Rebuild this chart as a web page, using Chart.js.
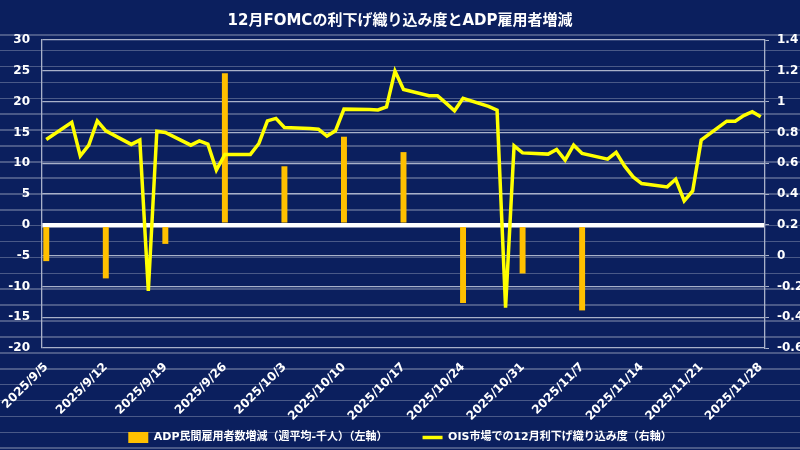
<!DOCTYPE html>
<html lang="ja">
<head>
<meta charset="utf-8">
<script src="https://cdn.jsdelivr.net/npm/chart.js@4.4.1/dist/chart.umd.min.js"></script>
<style>
  html, body { margin: 0; padding: 0; }
  body { width: 800px; height: 450px; background: #0b1f5e; position: relative; overflow: hidden; }
  #stripes {
    position: absolute; left: 0; top: 34px; width: 800px; height: 416px;
    background: repeating-linear-gradient(to bottom,
      rgba(255,255,255,0.26) 0px, rgba(255,255,255,0.26) 1.6px,
      transparent 1.6px, transparent 15.9px);
  }
  canvas { position: absolute; left: 0; top: 0; }
</style>
</head>
<body>
<div id="stripes"></div>
<canvas id="chart" width="800" height="450"></canvas>
<script>
// 12月FOMC利下げ織り込み度 vs ADP週次雇用者増減

const chartTitle = '12月FOMCの利下げ織り込み度とADP雇用者増減';
const adpLabel = 'ADP民間雇用者数増減（週平均-千人）（左軸）';
const oisLabel = 'OIS市場での12月利下げ織り込み度（右軸）';

// ADP weekly (left axis, thousand)
const adpDates = ['2025/9/5', '2025/9/12', '2025/9/19', '2025/9/26', '2025/10/3',
  '2025/10/10', '2025/10/17', '2025/10/24', '2025/10/31', '2025/11/7'];
const adpValues = [-5.9, -8.7, -3.1, 24.6, 9.5, 14.3, 11.8, -12.7, -7.9, -13.9];

// OIS pricing of a December cut (right axis), business days
const oisDates = [
  '2025/9/5', '2025/9/8', '2025/9/9', '2025/9/10', '2025/9/11', '2025/9/12',
  '2025/9/15', '2025/9/16', '2025/9/17', '2025/9/18', '2025/9/19',
  '2025/9/22', '2025/9/23', '2025/9/24', '2025/9/25', '2025/9/26',
  '2025/9/29', '2025/9/30', '2025/10/1', '2025/10/2', '2025/10/3',
  '2025/10/6', '2025/10/7', '2025/10/8', '2025/10/9', '2025/10/10',
  '2025/10/13', '2025/10/14', '2025/10/15', '2025/10/16', '2025/10/17',
  '2025/10/20', '2025/10/21', '2025/10/22', '2025/10/23', '2025/10/24',
  '2025/10/27', '2025/10/28', '2025/10/29', '2025/10/30', '2025/10/31',
  '2025/11/3', '2025/11/4', '2025/11/5', '2025/11/6', '2025/11/7',
  '2025/11/10', '2025/11/11', '2025/11/12', '2025/11/13', '2025/11/14',
  '2025/11/17', '2025/11/18', '2025/11/19', '2025/11/20', '2025/11/21',
  '2025/11/24', '2025/11/25', '2025/11/26', '2025/11/27', '2025/11/28'
];
const oisValues = [
  0.754, 0.865, 0.648, 0.717, 0.875, 0.810,
  0.722, 0.750, -0.23, 0.808, 0.800,
  0.717, 0.745, 0.724, 0.555, 0.657,
  0.657, 0.728, 0.875, 0.891, 0.832,
  0.826, 0.821, 0.776, 0.810, 0.951,
  0.948, 0.946, 0.966, 1.198, 1.079,
  1.038, 1.038, 0.990, 0.940, 1.021,
  0.969, 0.945, -0.338, 0.713, 0.667,
  0.659, 0.689, 0.620, 0.717, 0.663,
  0.626, 0.670, 0.581, 0.511, 0.468,
  0.446, 0.496, 0.355, 0.420, 0.750,
  0.873, 0.873, 0.909, 0.934, 0.901
];

// calendar axis: every day from 9/5 to 11/28
const dayLabels = [];
for (let d = new Date(2025, 8, 5); d <= new Date(2025, 10, 28); d.setDate(d.getDate() + 1)) {
  dayLabels.push(`${d.getFullYear()}/${d.getMonth() + 1}/${d.getDate()}`);
}

function onDays(dates, values) {
  const out = dayLabels.map(() => null);
  dates.forEach((dt, i) => { out[dayLabels.indexOf(dt)] = values[i]; });
  return out;
}

const gridGray = '#a9b1c9';

Chart.defaults.font.family = '"DejaVu Sans", "Noto Sans CJK JP", sans-serif';
Chart.defaults.font.weight = 'bold';
Chart.defaults.color = '#ffffff';

new Chart(document.getElementById('chart'), {
  data: {
    labels: dayLabels,
    datasets: [
      {
        type: 'bar',
        label: adpLabel,
        data: onDays(adpDates, adpValues),
        yAxisID: 'y',
        backgroundColor: '#ffc000',
        barPercentage: 0.7,
        categoryPercentage: 1,
        pointStyle: 'rect',
        order: 1
      },
      {
        type: 'line',
        label: oisLabel,
        data: onDays(oisDates, oisValues),
        yAxisID: 'y2',
        borderColor: '#ffff00',
        backgroundColor: '#ffff00',
        borderWidth: 3.5,
        pointRadius: 0,
        tension: 0,
        spanGaps: true,
        pointStyle: 'line',
        order: 0
      }
    ]
  },
  options: {
    responsive: false,
    animation: false,
    layout: { padding: { top: 0, left: 0, right: 0, bottom: -3 } },
    plugins: {
      title: {
        display: true,
        text: chartTitle,
        color: '#ffffff',
        font: { size: 15, weight: 'bold' },
        padding: { top: 12, bottom: 10 }
      },
      legend: {
        position: 'bottom',
        labels: {
          color: '#ffffff',
          font: { size: 11, weight: 'bold' },
          usePointStyle: true,
          pointStyleWidth: 20,
          boxHeight: 11,
          padding: 35,
          sort: (a, b) => a.datasetIndex - b.datasetIndex
        }
      },
      tooltip: { enabled: false }
    },
    scales: {
      x: {
        offset: true,
        grid: { display: false },
        border: { display: false },
        ticks: {
          autoSkip: false,
          minRotation: 45,
          maxRotation: 45,
          padding: 4,
          color: '#ffffff',
          font: { size: 12, weight: 'bold' },
          callback(v, i) { return i % 7 === 0 ? this.getLabelForValue(v) : ''; }
        },
        afterFit(s) {
          // squeeze the axis box; labels run down over the legend band, so skip the label clip
          s.height = 49;
          s.paddingLeft = 0;
          s.paddingRight = 0;
          s._computeLabelArea = () => undefined;
        }
      },
      y: {
        position: 'left',
        min: -20,
        max: 30,
        ticks: { stepSize: 5, padding: 12, color: '#ffffff', font: { size: 12, weight: 'bold' } },
        grid: {
          color: c => (c.tick && c.tick.value === 0 ? '#ffffff' : gridGray),
          lineWidth: c => (c.tick && c.tick.value === 0 ? 4.5 : 1.3),
          drawTicks: false
        },
        border: { display: true, color: gridGray, width: 1.3 },
        afterFit(s) { s.width = 42; }
      },
      y2: {
        position: 'right',
        min: -0.6,
        max: 1.4,
        ticks: {
          stepSize: 0.2,
          padding: 8,
          color: '#ffffff',
          font: { size: 12, weight: 'bold' },
          callback: v => String(Math.round(v * 10) / 10)
        },
        grid: { drawOnChartArea: false, drawTicks: true, tickLength: 4, color: gridGray },
        border: { display: true, color: gridGray, width: 1.3 },
        afterFit(s) { s.width = 35; }
      }
    }
  }
});
</script>
</body>
</html>
